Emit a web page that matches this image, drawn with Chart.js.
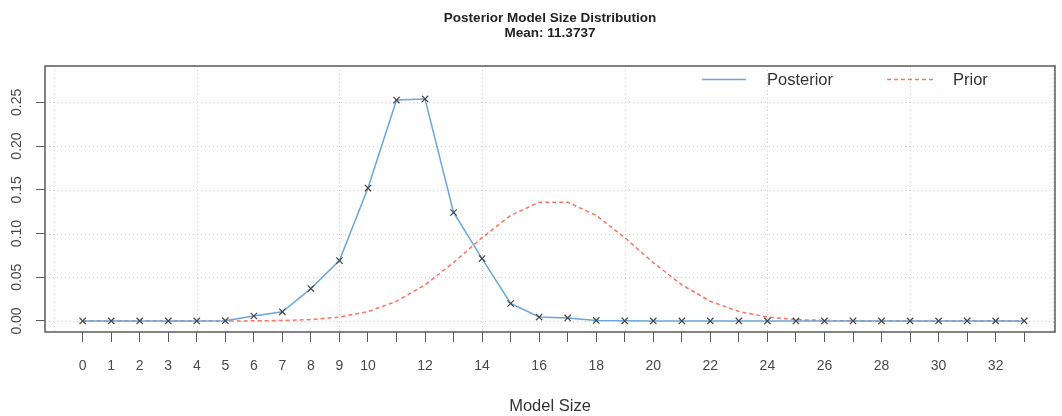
<!DOCTYPE html>
<html>
<head>
<meta charset="utf-8">
<script src="https://cdn.jsdelivr.net/npm/chart.js@4"></script>
<style>
  html, body { margin: 0; padding: 0; background: #fff; }
  canvas { display: block; }
</style>
</head>
<body>
<canvas id="c" width="1062" height="416"></canvas>
<script>
const titleLines = ["Posterior Model Size Distribution", "Mean: 11.3737"];
const xTitle = "Model Size";
const modelSizes = [0,1,2,3,4,5,6,7,8,9,10,11,12,13,14,15,16,17,18,19,20,21,22,23,24,25,26,27,28,29,30,31,32,33];
const posterior = [0,0,0,0,0,0.0003,0.0057,0.0105,0.037,0.069,0.152,0.2526,0.2538,0.124,0.0714,0.020,0.0045,0.0035,0.0006,0.0002,0.0001,0,0,0,0,0,0,0,0,0,0,0,0,0];
const prior = [0,0,0,0,0,0.00003,0.00013,0.0005,0.0016,0.0045,0.0108,0.0225,0.0413,0.0667,0.0953,0.1207,0.1358,0.1358,0.1207,0.0953,0.0667,0.0413,0.0225,0.0108,0.0045,0.0016,0.0005,0.00013,0.00003,0,0,0,0,0];
const yTicks = [0, 0.05, 0.10, 0.15, 0.20, 0.25];
const yTickLabels = ["0.00", "0.05", "0.10", "0.15", "0.20", "0.25"];
const xGridAt = [-1, 4, 9, 14, 19, 24, 29, 34];
const xLabelShown = v => v <= 10 || v % 2 === 0;

const FONT = "'Liberation Sans', Arial, Helvetica, sans-serif";
const BLUE = "rgb(108,165,218)";
const RED = "rgb(250,115,98)";

const decor = {
  id: "decor",
  beforeDatasetsDraw(chart) {
    const ctx = chart.ctx, a = chart.chartArea;
    const xs = chart.scales.x, ys = chart.scales.y;
    ctx.save();
    ctx.strokeStyle = "#c8c8c8";
    ctx.lineWidth = 1;
    ctx.setLineDash([1, 3]);
    xGridAt.forEach(v => {
      const px = Math.round(xs.getPixelForValue(v)) + 0.5;
      ctx.beginPath(); ctx.moveTo(px, a.top); ctx.lineTo(px, a.bottom); ctx.stroke();
    });
    yTicks.forEach(v => {
      const py = Math.round(ys.getPixelForValue(v)) + 0.5;
      ctx.beginPath(); ctx.moveTo(a.left, py); ctx.lineTo(a.right, py); ctx.stroke();
    });
    ctx.restore();
  },
  afterDraw(chart) {
    const ctx = chart.ctx, a = chart.chartArea;
    const ys = chart.scales.y;
    ctx.save();
    // box
    ctx.strokeStyle = "#5a5a5a";
    ctx.lineWidth = 1.5;
    ctx.strokeRect(a.left, a.top, a.right - a.left, a.bottom - a.top);
    // y labels rotated
    ctx.fillStyle = "#4a4a4a";
    ctx.font = "14px " + FONT;
    ctx.textAlign = "center";
    ctx.textBaseline = "middle";
    yTicks.forEach((v, i) => {
      const py = ys.getPixelForValue(v);
      ctx.save();
      ctx.translate(17, py);
      ctx.rotate(-Math.PI / 2);
      ctx.fillText(yTickLabels[i], 0, 0);
      ctx.restore();
    });
    // title
    const cx = (a.left + a.right) / 2;
    ctx.fillStyle = "#222";
    ctx.font = "bold 13.5px " + FONT;
    ctx.fillText(titleLines[0], cx, 18);
    ctx.fillText(titleLines[1], cx, 33);
    // x title
    ctx.fillStyle = "#333";
    ctx.font = "16.5px " + FONT;
    ctx.fillText(xTitle, cx, 406);
    // legend
    const ds = chart.data.datasets;
    ctx.textAlign = "left";
    ctx.font = "16.5px " + FONT;
    ctx.lineWidth = 1.5;
    ctx.strokeStyle = BLUE;
    ctx.setLineDash([]);
    ctx.beginPath(); ctx.moveTo(702, 79.5); ctx.lineTo(746, 79.5); ctx.stroke();
    ctx.fillStyle = "#333";
    ctx.fillText(ds[0].label, 767, 80);
    ctx.strokeStyle = RED;
    ctx.setLineDash([4, 3]);
    ctx.beginPath(); ctx.moveTo(887, 79.5); ctx.lineTo(933, 79.5); ctx.stroke();
    ctx.setLineDash([]);
    ctx.fillText(ds[1].label, 953, 80);
    ctx.restore();
  }
};

new Chart(document.getElementById("c"), {
  type: "line",
  data: {
    datasets: [
      {
        label: "Posterior",
        data: modelSizes.map((s, i) => ({ x: s, y: posterior[i] })),
        borderColor: BLUE,
        borderWidth: 1.5,
        pointStyle: "crossRot",
        pointRadius: 4.5,
        pointBorderColor: "#444",
        pointBorderWidth: 1.2,
        pointBackgroundColor: "#444",
        tension: 0,
        order: 0
      },
      {
        label: "Prior",
        data: modelSizes.map((s, i) => ({ x: s, y: prior[i] })),
        borderColor: RED,
        borderWidth: 1.5,
        borderDash: [4, 3],
        pointRadius: 0,
        tension: 0,
        order: 1
      }
    ]
  },
  options: {
    responsive: false,
    animation: false,
    layout: { padding: { top: 66, right: 7, left: 0, bottom: 0 } },
    plugins: { legend: { display: false }, tooltip: { enabled: false }, title: { display: false } },
    scales: {
      x: {
        type: "linear",
        min: -1.32,
        max: 34.08,
        afterBuildTicks: s => { s.ticks = modelSizes.map(v => ({ value: v })); },
        afterFit: s => { s.height = 84; },
        ticks: {
          autoSkip: false,
          maxRotation: 0,
          minRotation: 0,
          padding: 16,
          color: "#4a4a4a",
          font: { family: FONT, size: 14 },
          callback: v => xLabelShown(v) ? String(v) : ""
        },
        grid: { drawOnChartArea: false, drawTicks: true, tickLength: 10, color: "#5a5a5a", lineWidth: 1 },
        border: { display: false }
      },
      y: {
        type: "linear",
        min: -0.0126,
        max: 0.2915,
        afterBuildTicks: s => { s.ticks = yTicks.map(v => ({ value: v })); },
        afterFit: s => { s.width = 45; },
        ticks: { color: "rgba(0,0,0,0)", font: { size: 1 } },
        grid: { drawOnChartArea: false, drawTicks: true, tickLength: 9, color: "#5a5a5a", lineWidth: 1 },
        border: { display: false }
      }
    }
  },
  plugins: [decor]
});
</script>
</body>
</html>
